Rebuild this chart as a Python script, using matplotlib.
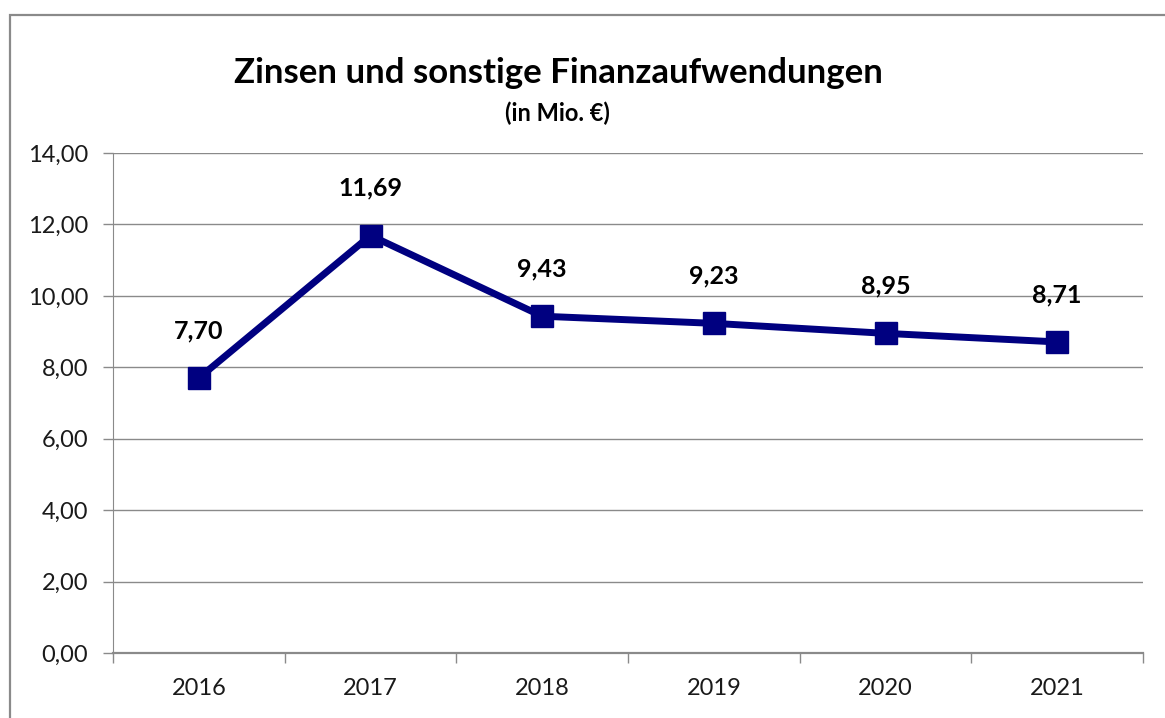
import matplotlib
matplotlib.use("Agg")
import matplotlib.pyplot as plt
from matplotlib.patches import Rectangle

# Daten
years = ["2016", "2017", "2018", "2019", "2020", "2021"]
values = [7.70, 11.69, 9.43, 9.23, 8.95, 8.71]
y_ticks = [0, 2, 4, 6, 8, 10, 12, 14]

plt.rcParams['font.family'] = ['Lato', 'DejaVu Sans']

W, H = 1165, 718
fig = plt.figure(figsize=(W / 100, H / 100), dpi=100)

# Rahmen um das Diagramm (rechts/unten abgeschnitten)
fig.patches.append(Rectangle((10 / W, -0.1), 1.2, 1 - 15 / H + 0.1,
                             transform=fig.transFigure, fill=False,
                             edgecolor="#8a8a8a", linewidth=1.6))

ax = fig.add_axes([113 / W, (H - 653) / H, (1143 - 113) / W, 500 / H])

xs = [i + 0.5 for i in range(len(years))]
ax.plot(xs, values, color="#000080", linewidth=5, marker="s",
        markersize=15.5, markerfacecolor="#000080", markeredgecolor="#000080",
        zorder=3)

for x, v in zip(xs, values):
    ax.annotate(("%.2f" % v).replace(".", ","), (x, v), xytext=(0, 34),
                textcoords="offset points", ha="center", va="center",
                fontsize=18, fontweight="bold", color="#000000")

ax.set_xlim(0, len(years))
ax.set_ylim(0, 14)

ax.set_yticks(y_ticks)
ax.set_yticklabels([("%.2f" % t).replace(".", ",") for t in y_ticks])
ax.set_xticks(range(len(years) + 1))
ax.set_xticklabels([])
ax.set_xticks(xs, minor=True)
ax.set_xticklabels(years, minor=True)

ax.tick_params(axis="y", which="major", length=7, width=1, color="#8a8a8a",
               labelsize=17, pad=11, labelcolor="#1a1a1a")
ax.tick_params(axis="x", which="major", length=7, width=1, color="#8a8a8a")
ax.tick_params(axis="x", which="minor", length=0, labelsize=17, pad=18,
               labelcolor="#1a1a1a")

ax.grid(axis="y", color="#8a8a8a", linewidth=1)
ax.set_axisbelow(True)
for s in ["top", "right"]:
    ax.spines[s].set_visible(False)
ax.spines["left"].set_color("#8a8a8a")
ax.spines["bottom"].set_color("#8a8a8a")
ax.spines["bottom"].set_linewidth(1.6)

fig.text(558 / W, 1 - 73 / H, "Zinsen und sonstige Finanzaufwendungen",
         ha="center", va="center", fontsize=25, fontweight="bold")
fig.text(557 / W, 1 - 113 / H, "(in Mio. €)", ha="center", va="center",
         fontsize=17, fontweight="bold")

fig.savefig("out.png", dpi=100)
